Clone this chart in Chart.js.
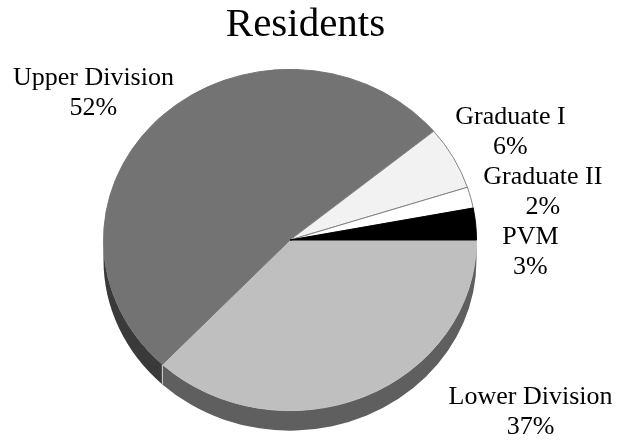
<!DOCTYPE html>
<html>
<head>
<meta charset="utf-8">
<script src="https://cdn.jsdelivr.net/npm/chart.js@4.4.0/dist/chart.umd.min.js"></script>
<style>
  html, body { margin: 0; padding: 0; background: #fff; }
  #wrap { width: 617px; height: 441px; }
</style>
</head>
<body>
<div id="wrap"><canvas id="chartResidents"></canvas></div>
<script>
const categories = ['Lower Division', 'Upper Division', 'Graduate I', 'Graduate II', 'PVM'];
const residentShares = [37, 52, 6, 2, 3];

const sliceColors = ['#bfbfbf', '#737373', '#f2f2f2', '#ffffff', '#000000'];
const sideColors = ['#5f5f5f', '#3a3a3a', '#a6a6a6', '#b3b3b3', '#000000'];
const edgeColors = ['#bfbfbf', '#737373', '#808080', '#808080', '#000000'];

// label placement: angle (deg, clockwise from 3 o'clock) and distance in radii
const labelAngles = [38, 219.2, -28.1, -11.6, 3.1];
const labelDistances = [1.637, 1.36, 1.34, 1.384, 1.291];

const tilt = 0.915;  // vertical squash of the pie face
const depth = 20;    // edge thickness, px

// squash the pie into an ellipse and draw its front edge underneath
const pie3d = {
  id: 'pie3d',
  beforeDatasetsDraw(chart) {
    const ctx = chart.ctx;
    const arcs = chart.getDatasetMeta(0).data;
    const cx = arcs[0].x, cy = arcs[0].y;
    const d = depth / tilt;
    ctx.save();
    ctx.translate(cx, cy);
    ctx.scale(1, tilt);
    ctx.translate(-cx, -cy);
    const full = Math.PI * 2;
    arcs.forEach((arc, i) => {
      const r = arc.outerRadius;
      let a = ((arc.startAngle % full) + full) % full;
      const b = a + (arc.endAngle - arc.startAngle);
      [[0, Math.PI], [full, full + Math.PI]].forEach(([lo, hi]) => {
        const s = Math.max(a, lo), e = Math.min(b, hi);
        if (e <= s) return;
        ctx.beginPath();
        ctx.arc(cx, cy, r, s, e);
        ctx.arc(cx, cy + d, r, e, s, true);
        ctx.closePath();
        ctx.fillStyle = sideColors[i];
        ctx.fill();
      });
    });
    // light seam where two slices meet on the edge
    arcs.forEach(arc => {
      const a = ((arc.startAngle % full) + full) % full;
      if (a <= 0.01 || a >= Math.PI - 0.01) return;
      const px = cx + arc.outerRadius * Math.cos(a);
      const py = cy + arc.outerRadius * Math.sin(a);
      ctx.beginPath();
      ctx.moveTo(px, py);
      ctx.lineTo(px, py + d);
      ctx.strokeStyle = '#d9d9d9';
      ctx.lineWidth = 1;
      ctx.stroke();
    });
  },
  afterDatasetsDraw(chart) {
    chart.ctx.restore();
  }
};

const sliceLabels = {
  id: 'sliceLabels',
  afterDraw(chart) {
    const ctx = chart.ctx;
    const arcs = chart.getDatasetMeta(0).data;
    const total = residentShares.reduce((s, v) => s + v, 0);
    ctx.save();
    ctx.fillStyle = '#000';
    ctx.textAlign = 'center';
    ctx.textBaseline = 'middle';
    ctx.font = '26px "Liberation Serif"';
    arcs.forEach((arc, i) => {
      const t = labelAngles[i] * Math.PI / 180;
      const r = arc.outerRadius * labelDistances[i];
      const lx = arc.x + r * Math.cos(t);
      const ly = arc.y + r * tilt * Math.sin(t);
      ctx.fillText(categories[i], lx, ly - 15);
      ctx.fillText(Math.round(residentShares[i] / total * 100) + '%', lx, ly + 15);
    });
    ctx.font = '41px "Liberation Serif"';
    ctx.fillText('Residents', chart.width / 2 - 3, 25);
    ctx.restore();
  }
};

const ctxResidents = document.getElementById('chartResidents').getContext('2d');
const chartResidents = new Chart(ctxResidents, {
  type: 'pie',
  data: {
    labels: categories,
    datasets: [{
      data: residentShares,
      backgroundColor: sliceColors,
      borderColor: edgeColors,
      borderWidth: 1
    }]
  },
  options: {
    responsive: true,
    maintainAspectRatio: false,
    animation: false,
    rotation: 90,
    layout: {
      padding: { left: 103, right: 140, top: 53, bottom: 14 }
    },
    plugins: {
      legend: { display: false },
      tooltip: { enabled: false }
    }
  },
  plugins: [pie3d, sliceLabels]
});
</script>
</body>
</html>
